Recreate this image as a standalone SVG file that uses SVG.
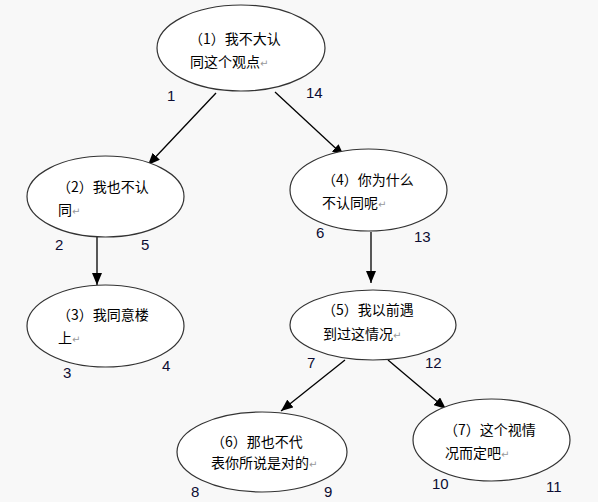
<svg xmlns="http://www.w3.org/2000/svg" width="598" height="502" viewBox="0 0 598 502">
<style>
.bg{fill:#f8f8f8}
.node{fill:#ffffff;stroke:#333333;stroke-width:1.2}
.t{font-family:"Noto Sans CJK SC","Liberation Sans",sans-serif;font-size:14px;fill:#000}
.pm{font-family:"DejaVu Sans",sans-serif;font-size:10px;fill:#999}
.n{font-family:"Liberation Sans",Arial,sans-serif;font-size:15px;fill:#0d0d33}
.edge{stroke:#000;stroke-width:1.3;fill:none;marker-end:url(#ah)}
</style>
<defs>
<marker id="ah" viewBox="0 0 12 10" refX="12" refY="5" markerWidth="12" markerHeight="10" markerUnits="userSpaceOnUse" orient="auto">
<path d="M0,0 L12,5 L0,10 Z" fill="#000"/>
</marker>
</defs>
<rect class="bg" x="0" y="0" width="598" height="502"/>
<g id="connectors">
<line class="edge" x1="216" y1="93" x2="148" y2="165"/>
<line class="edge" x1="275" y1="92" x2="344" y2="156"/>
<line class="edge" x1="97" y1="237" x2="97" y2="285"/>
<line class="edge" x1="371" y1="232" x2="371" y2="283"/>
<line class="edge" x1="345" y1="360" x2="281" y2="411"/>
<line class="edge" x1="388" y1="360" x2="446" y2="409"/>
</g>
<g id="node1">
<ellipse class="node" cx="241" cy="48" rx="84" ry="43"/>
<text class="t" x="189" y="44">（1）我不大认</text>
<text class="t" x="190" y="67">同这个观点<tspan class="pm">↵</tspan></text>
</g>
<g id="node2">
<ellipse class="node" cx="105.5" cy="196.5" rx="78.5" ry="40.5"/>
<text class="t" x="57" y="192">（2）我也不认</text>
<text class="t" x="58" y="215">同<tspan class="pm">↵</tspan></text>
</g>
<g id="node4">
<ellipse class="node" cx="368.5" cy="190" rx="78.5" ry="41"/>
<text class="t" x="322" y="185">（4）你为什么</text>
<text class="t" x="322" y="208">不认同呢<tspan class="pm">↵</tspan></text>
</g>
<g id="node3">
<ellipse class="node" cx="105.5" cy="326" rx="78.5" ry="41"/>
<text class="t" x="57" y="320">（3）我同意楼</text>
<text class="t" x="58" y="343">上<tspan class="pm">↵</tspan></text>
</g>
<g id="node5">
<ellipse class="node" cx="373" cy="325" rx="83" ry="35"/>
<text class="t" x="322" y="315">（5）我以前遇</text>
<text class="t" x="323" y="339">到过这情况<tspan class="pm">↵</tspan></text>
</g>
<g id="node6">
<ellipse class="node" cx="262" cy="452" rx="85" ry="40"/>
<text class="t" x="211" y="447">（6）那也不代</text>
<text class="t" x="211" y="468">表你所说是对的<tspan class="pm">↵</tspan></text>
</g>
<g id="node7">
<ellipse class="node" cx="491.5" cy="440" rx="78.5" ry="41"/>
<text class="t" x="444" y="435">（7）这个视情</text>
<text class="t" x="445" y="458">况而定吧<tspan class="pm">↵</tspan></text>
</g>
<g id="numbers">
<text class="n" x="167" y="101">1</text>
<text class="n" x="306" y="98">14</text>
<text class="n" x="55" y="250">2</text>
<text class="n" x="141" y="250">5</text>
<text class="n" x="316" y="238">6</text>
<text class="n" x="414" y="242">13</text>
<text class="n" x="63" y="378">3</text>
<text class="n" x="162" y="371">4</text>
<text class="n" x="307" y="368">7</text>
<text class="n" x="425" y="368">12</text>
<text class="n" x="191" y="497">8</text>
<text class="n" x="324" y="497">9</text>
<text class="n" x="432" y="489">10</text>
<text class="n" x="546" y="492">11</text>
</g>
</svg>
